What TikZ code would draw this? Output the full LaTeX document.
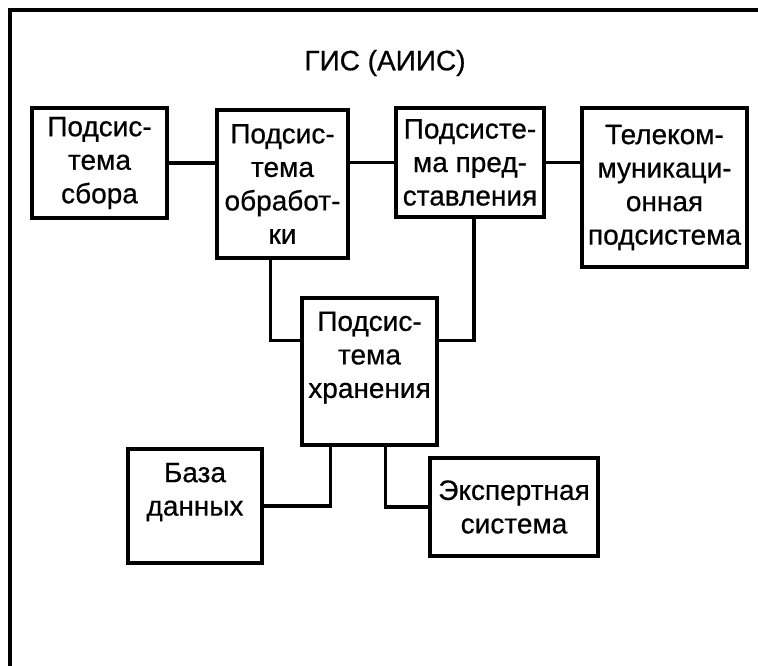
\documentclass[tikz,border=0pt]{standalone}
\usepackage{fontspec}
\setmainfont{Liberation Sans}[FakeBold=0.6]
\usetikzlibrary{calc}

\begin{document}
\begin{tikzpicture}[x=1pt,y=-1pt,
    blok/.style={draw,line width=3.6pt,align=center,inner sep=0pt},
    svyaz/.style={line width=3.2pt}]
                \useasboundingbox (0,0) rectangle (758,665);
                \clip (0,0) rectangle (758,665);
                \fontsize{28}{33.5}\selectfont
                \draw[svyaz] (10,10) rectangle (780,690);
                \node (gis) at(385,63){ГИС (АИИС)};

                \node[blok,minimum width=135,minimum height=110] (sbor) at(99.5,163){Подсис-\\тема\\сбора};
                \node[blok,minimum width=131,minimum height=148] (obrab) at(282.5,184){Подсис-\\тема\\обработ-\\ки};
                \node[blok,minimum width=148,minimum height=109] (predst) at(470,162.5){Подсисте-\\ма пред-\\ставления};
                \node[blok,minimum width=165,minimum height=159] (telekom) at(664.5,187.5){Телеком-\\муникаци-\\онная\\подсистема};
                \node[blok,minimum width=135,minimum height=147] (xran) at(369.5,371.5){Подсис-\\тема\\хранения\\\mbox{}};
                \node[blok,minimum width=134,minimum height=114] (baza) at(195,506){База\\данных\\\mbox{}};
                \node[blok,minimum width=168,minimum height=98] (ekspert) at(514,507){Экспертная\\система};

                \draw[svyaz] (sbor.east) -- (sbor.east -| obrab.west);
                \draw[svyaz] (obrab.east |- predst.west) -- (predst.west);
                \draw[svyaz] (predst.east) -- (predst.east -| telekom.west);
                \draw[svyaz] ($(obrab.south)+(-12,0)$) |- ($(xran.north west)+(0,44)$);
                \draw[svyaz] ($(predst.south)+(4,0)$) |- ($(xran.north east)+(0,44)$);
                \draw[svyaz] ($(xran.south west)+(30,0)$) |- (baza.east);
                \draw[svyaz] ($(xran.south east)+(-53,0)$) |- (ekspert.west);
            \end{tikzpicture}
\end{document}
